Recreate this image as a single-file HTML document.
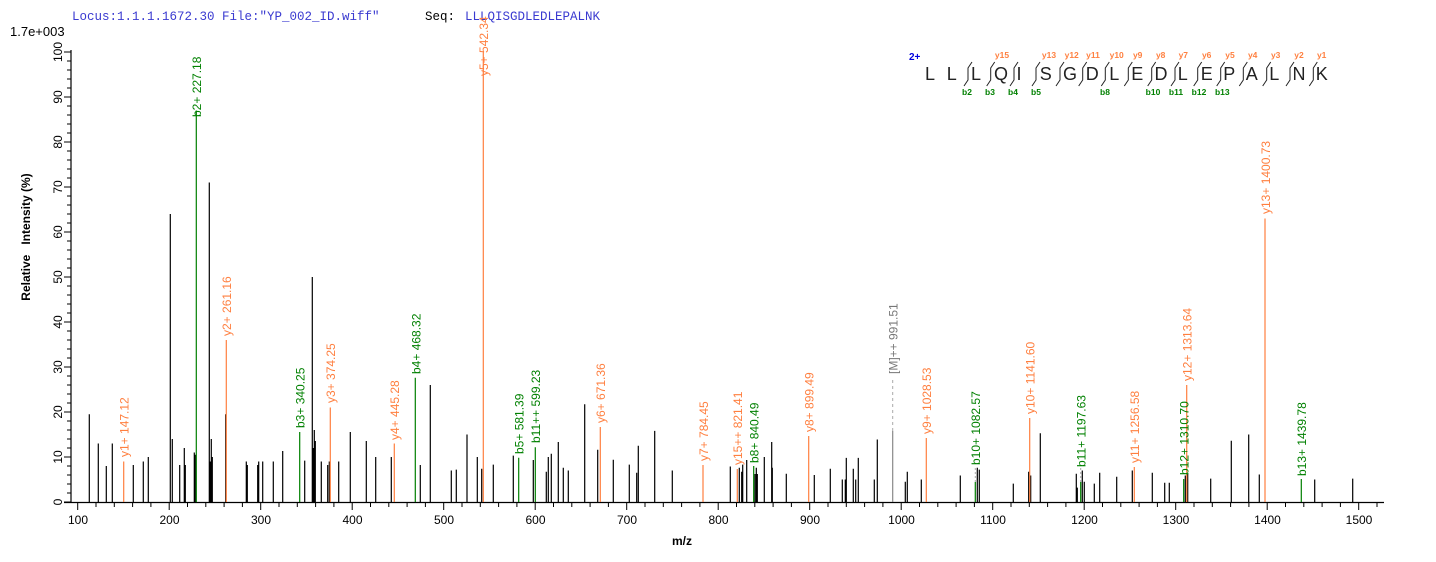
<!DOCTYPE html>
<html><head><meta charset="utf-8"><style>
html,body{margin:0;padding:0;background:#fff;}
svg{display:block;font-family:"Liberation Sans",Arial,sans-serif;}
.lb{font-size:12px;}
.o{fill:#ff7f3f;} .g{fill:#008000;}
</style></head><body>
<svg width="1436" height="562" viewBox="0 0 1436 562" xmlns="http://www.w3.org/2000/svg">
<text x="72" y="20" font-family="Liberation Mono,monospace" font-size="12.5" fill="#3a3ad0">Locus:1.1.1.1672.30 File:"YP_002_ID.wiff"</text>
<text x="425" y="20" font-family="Liberation Mono,monospace" font-size="12.5" fill="#000">Seq:</text>
<text x="465" y="20" font-family="Liberation Mono,monospace" font-size="12.5" fill="#3a3ad0">LLLQISGDLEDLEPALNK</text>
<text x="10" y="36" font-size="13" fill="#000">1.7e+003</text>

<!-- axes -->
<path d="M71 50 V503 M64 502.5 H1384" stroke="#000" stroke-width="1.2" fill="none"/>
<path id="yt" stroke="#000" stroke-width="1" fill="none" d=""/>
<path id="xt" stroke="#000" stroke-width="1" fill="none" d=""/>
<g font-size="12" fill="#000" text-anchor="middle">
<text transform="translate(62,502) rotate(-90)">0</text>
<text transform="translate(62,457) rotate(-90)">10</text>
<text transform="translate(62,412) rotate(-90)">20</text>
<text transform="translate(62,367) rotate(-90)">30</text>
<text transform="translate(62,322) rotate(-90)">40</text>
<text transform="translate(62,277) rotate(-90)">50</text>
<text transform="translate(62,232) rotate(-90)">60</text>
<text transform="translate(62,187) rotate(-90)">70</text>
<text transform="translate(62,142) rotate(-90)">80</text>
<text transform="translate(62,97) rotate(-90)">90</text>
<text transform="translate(62,52) rotate(-90)">100</text>
</g>
<g font-size="12" fill="#000" text-anchor="middle">
<text x="78" y="524">100</text><text x="169.5" y="524">200</text><text x="261" y="524">300</text><text x="352.5" y="524">400</text><text x="444" y="524">500</text><text x="535.5" y="524">600</text><text x="627" y="524">700</text><text x="718.5" y="524">800</text><text x="810" y="524">900</text><text x="901.5" y="524">1000</text><text x="993" y="524">1100</text><text x="1084.5" y="524">1200</text><text x="1176" y="524">1300</text><text x="1267.5" y="524">1400</text><text x="1359" y="524">1500</text>
</g>
<text x="682" y="545" font-size="12" font-weight="bold" text-anchor="middle">m/z</text>
<text transform="translate(30,237) rotate(-90)" font-size="12" font-weight="bold" text-anchor="middle">Relative&#160;&#160;&#160;Intensity (%)</text>

<path id="bk" stroke="#000" stroke-width="1.2" fill="none" d=""/>

<!-- grey M++ -->
<path d="M892.7 502 V431" stroke="#888" stroke-width="1.2"/>
<path d="M892.7 431 V378" stroke="#aaa" stroke-width="1" stroke-dasharray="3,3"/>
<text class="lb" fill="#777" transform="translate(897.5,374) rotate(-90)">[M]++ 991.51</text>

<!-- orange -->
<g stroke="#ff7f3f" stroke-width="1.2">
<path d="M123.7 502V461.5 M226.3 502V340 M330.3 502V407.5 M394.3 502V443.5 M483.3 502V52 M600.3 502V427 M703 502V465 M737.3 502V469 M808.7 502V436 M926.3 502V438 M1029.7 502V418 M1134.3 502V467 M1186.7 502V385 M1265 502V218.5"/>
</g>
<g class="lb o">
<text transform="translate(128.5,457) rotate(-90)">y1+ 147.12</text>
<text transform="translate(231,336) rotate(-90)">y2+ 261.16</text>
<text transform="translate(335,403) rotate(-90)">y3+ 374.25</text>
<text transform="translate(399,440) rotate(-90)">y4+ 445.28</text>
<text transform="translate(488,76) rotate(-90)">y5+ 542.34</text>
<text transform="translate(605,423) rotate(-90)">y6+ 671.36</text>
<text transform="translate(708,461) rotate(-90)">y7+ 784.45</text>
<text transform="translate(742,465) rotate(-90)">y15++ 821.41</text>
<text transform="translate(813.5,432) rotate(-90)">y8+ 899.49</text>
<text transform="translate(931,434) rotate(-90)">y9+ 1028.53</text>
<text transform="translate(1034.5,414) rotate(-90)">y10+ 1141.60</text>
<text transform="translate(1139,463) rotate(-90)">y11+ 1256.58</text>
<text transform="translate(1191.5,381) rotate(-90)">y12+ 1313.64</text>
<text transform="translate(1270,214) rotate(-90)">y13+ 1400.73</text>
</g>
<!-- green -->
<g stroke="#008000" stroke-width="1.2">
<path d="M196.3 502V110.5 M299.7 502V432 M415.3 502V377.7 M518.7 502V457.7 M535.3 502V447.3 M753.7 502V466 M975.3 502V482 M1080.7 502V482 M1183.7 502V479 M1301.3 502V479"/>
</g>
<path d="M975.3 482V468 M1080.7 482V468" stroke="#aaa" stroke-dasharray="2,2"/>
<g class="lb g">
<text transform="translate(201,117) rotate(-90)">b2+ 227.18</text>
<text transform="translate(304.5,428) rotate(-90)">b3+ 340.25</text>
<text transform="translate(420.5,374) rotate(-90)">b4+ 468.32</text>
<text transform="translate(523.5,454) rotate(-90)">b5+ 581.39</text>
<text transform="translate(540,443) rotate(-90)">b11++ 599.23</text>
<text transform="translate(758.5,463) rotate(-90)">b8+ 840.49</text>
<text transform="translate(980,465) rotate(-90)">b10+ 1082.57</text>
<text transform="translate(1085.5,467) rotate(-90)">b11+ 1197.63</text>
<text transform="translate(1188.5,475) rotate(-90)">b12+ 1310.70</text>
<text transform="translate(1306,476) rotate(-90)">b13+ 1439.78</text>
</g>

<!-- sequence panel -->
<text x="909" y="60" font-size="10" font-weight="bold" fill="#0000e0">2+</text>
<g font-size="18" fill="#222" text-anchor="middle">
<text x="930" y="80">L</text><text x="951.7" y="80">L</text><text x="976" y="80">L</text><text x="1001" y="80">Q</text><text x="1019" y="80">I</text><text x="1045.7" y="80">S</text><text x="1070" y="80">G</text><text x="1092.3" y="80">D</text><text x="1114.3" y="80">L</text><text x="1137.3" y="80">E</text><text x="1161" y="80">D</text><text x="1182.7" y="80">L</text><text x="1206.7" y="80">E</text><text x="1229.3" y="80">P</text><text x="1251.7" y="80">A</text><text x="1274.3" y="80">L</text><text x="1299" y="80">N</text><text x="1321.7" y="80">K</text>
</g>
<path id="br" stroke="#222" stroke-width="1" fill="none" d=""/>
<g font-size="8.5" font-weight="bold" fill="#ff8040" text-anchor="middle">
<text x="1002" y="58">y15</text><text x="1049" y="58">y13</text><text x="1071.7" y="58">y12</text><text x="1093" y="58">y11</text><text x="1116.7" y="58">y10</text><text x="1137.7" y="58">y9</text><text x="1160.7" y="58">y8</text><text x="1183.3" y="58">y7</text><text x="1206.7" y="58">y6</text><text x="1230" y="58">y5</text><text x="1252.7" y="58">y4</text><text x="1275.7" y="58">y3</text><text x="1299" y="58">y2</text><text x="1321.7" y="58">y1</text>
</g>
<g font-size="8.5" font-weight="bold" fill="#008000" text-anchor="middle">
<text x="967" y="95">b2</text><text x="990" y="95">b3</text><text x="1013" y="95">b4</text><text x="1036" y="95">b5</text><text x="1105" y="95">b8</text><text x="1153" y="95">b10</text><text x="1176" y="95">b11</text><text x="1199" y="95">b12</text><text x="1222.3" y="95">b13</text>
</g>
</svg>
<script>
var yt="";for(var v=0;v<=100;v+=2){var y=502-v*4.5;yt+="M71 "+y+"H"+(v%10==0?64:67);}
document.getElementById("yt").setAttribute("d",yt);
var xt="";for(var m=100;m<=1520;m+=20){var x=77.7+(m-100)*0.915;xt+="M"+x+" 502V"+(m%100==0?510:507);}
document.getElementById("xt").setAttribute("d",xt);
var pk=[[89.3,414.3],[98.3,443.5],[106.3,466],[112.3,443.5],[133.3,465],[143.3,461.5],[148.3,457],[170.3,214],[172.3,439],[179.7,465],[184.3,448],[185.3,465],[194.3,452.5],[195.3,454.8],[209.3,182.5],[210.3,461.5],[211.3,439],[212.3,457],[225.7,414.3],[246.3,461.5],[247.3,465],[257.7,465],[258.7,461.5],[262.7,461.5],[273.3,461.5],[282.7,451],[304.7,460.6],[312.3,277],[313.3,448],[314.3,430],[315.3,441],[321.3,461.5],[327.7,465],[329.3,461.5],[338.7,461.5],[350.3,432],[366.3,441],[375.7,457],[391.3,457],[420.3,465],[430.3,385],[451.3,470.5],[456.3,469.6],[467,434.5],[477.3,457],[481.7,468.7],[493.3,464.6],[513.3,455.6],[533.3,460],[546.3,471.8],[548.3,457],[551.3,453.8],[558.3,442],[563.3,467.8],[568.3,470.5],[584.7,404.3],[597.7,449.8],[613.3,459.7],[629.3,464.6],[636.7,472.8],[638.3,445.8],[654.7,430.9],[672.3,470.5],[730.3,466.5],[739.3,467.8],[741.7,471.8],[742.7,464.6],[746.7,460],[755,474],[756.3,467.8],[757.3,474],[764.3,457],[771.7,442],[772.3,467.8],[786.3,473.7],[814.3,475],[830.3,468.7],[842.3,479.5],[845.3,479.5],[846.3,457.9],[853.3,468.7],[855.7,479.5],[858.3,457.9],[874.3,479.5],[877.3,439.5],[905.3,481.8],[907.3,471.8],[921.3,479.5],[960.3,475.5],[977.3,467.8],[979.3,469.6],[1013.3,483.6],[1028.7,471.8],[1030.7,475.5],[1040.3,433.2],[1076.3,473.7],[1077.3,487.6],[1082.3,470.5],[1084.3,481.8],[1094.3,483.6],[1099.7,472.8],[1116.7,476.8],[1132.3,470.5],[1152.3,472.8],[1164.7,482.7],[1169.3,482.7],[1185.3,475.5],[1187.7,473.7],[1210.7,478.6],[1231.3,440.8],[1248.7,434.5],[1259.3,474.5],[1314.7,479.5],[1352.7,478.6]];
var d="";pk.forEach(function(p){d+="M"+p[0]+" 502V"+p[1];});
document.getElementById("bk").setAttribute("d",d);
var bx=[968,990.7,1014,1036,1060,1082.7,1105.3,1128.3,1151.7,1175,1197.7,1220.7,1243.3,1266.7,1290,1313.3];
var b="";bx.forEach(function(x){b+="M"+(x+4)+" 62L"+x+" 68V80L"+(x-4)+" 86";});
document.getElementById("br").setAttribute("d",b);
</script>
</body></html>
